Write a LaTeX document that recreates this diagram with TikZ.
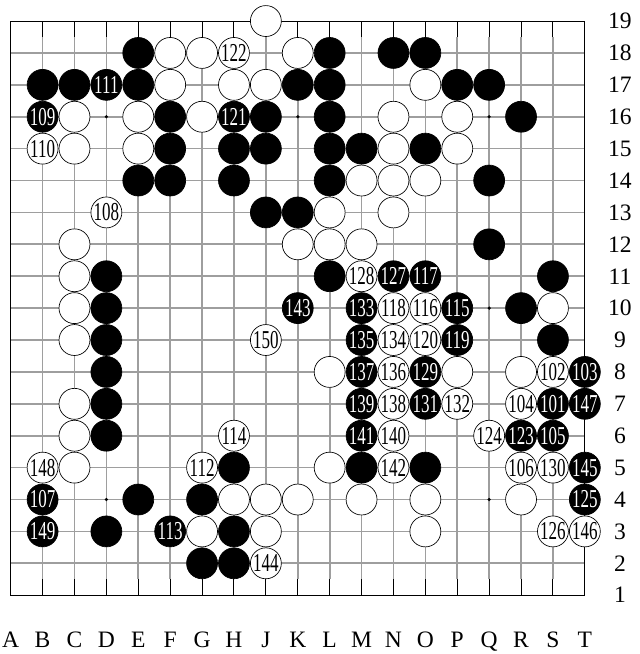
\documentclass[tikz,border=0pt]{standalone}
\usepackage{fontspec}
\setmainfont{Liberation Serif}
\usepackage{graphicx}
\usepackage{tikz}
\definecolor{gridgray}{HTML}{9E9E9E}
\newcommand{\mvnum}[1]{\fontsize{23}{25}\selectfont\scalebox{0.66}[1]{#1}}

\begin{document}
\begin{tikzpicture}[x=1cm, y=1cm, every node/.style={font=\fontsize{21}{24}\selectfont},
  collab/.style={anchor=base, inner sep=0pt}, rowlab/.style={anchor=center, inner sep=0pt},
  stone/.style={circle, draw=black, line width=0.6pt, minimum size=9.7mm, inner sep=0pt},
  bstone/.style={stone, fill=black, text=white}, wstone/.style={stone, fill=white},
  gridln/.style={gridgray, line width=1.5pt}, edgeln/.style={black, line width=0.9pt}]
\useasboundingbox (-0.335,-1.843) rectangle (19.70,18.66);
% board labels
\foreach \l [count=\i from 0] in {A,B,C,D,E,F,G,H,J,K,L,M,N,O,P,Q,R,S,T}
  \node[collab] (col\l) at (\i,-1.633) {\l};
\foreach \r in {1,...,19}
  \node[rowlab] (row\r) at (19.1,\r-1) {\r};
% grid
\foreach \i in {1,...,17} {
  \draw[gridln] (\i,0.5) -- (\i,17.5);
  \draw[edgeln] (\i,0) -- (\i,0.5) (\i,17.5) -- (\i,18);
}
\foreach \j in {1,...,17} \draw[gridln] (0,\j) -- (18,\j);
\draw[edgeln] (0,0) rectangle (18,18);
\foreach \c in {D,K,Q} \foreach \r in {4,10,16} \fill (col\c |- row\r) circle (0.055);
% black stones
\foreach \c/\r in {E/18,L/18,N/18,O/18,B/17,C/17,E/17,K/17,L/17,P/17,Q/17,F/16,J/16,L/16,R/16,
  F/15,H/15,J/15,L/15,M/15,O/15,E/14,F/14,H/14,L/14,Q/14,J/13,K/13,Q/12,D/11,L/11,S/11,
  D/10,R/10,D/9,S/9,D/8,D/7,D/6,H/5,M/5,O/5,E/4,G/4,D/3,H/3,G/2,H/2}
  \node[bstone] (\c\r) at (col\c |- row\r) {};
\foreach \c/\r/\n in {D/17/111,B/16/109,H/16/121,N/11/127,O/11/117,K/10/143,M/10/133,P/10/115,
  M/9/135,P/9/119,M/8/137,O/8/129,T/8/103,M/7/139,O/7/131,S/7/101,T/7/147,M/6/141,R/6/123,
  S/6/105,T/5/145,B/4/107,T/4/125,B/3/149,F/3/113}
  \node[bstone] (\c\r) at (col\c |- row\r) {\mvnum{\n}};
% white stones
\foreach \c/\r in {J/19,F/18,G/18,K/18,F/17,H/17,J/17,O/17,C/16,E/16,G/16,N/16,P/16,
  C/15,E/15,N/15,P/15,M/14,N/14,O/14,L/13,N/13,C/12,K/12,L/12,M/12,C/11,C/10,S/10,C/9,
  L/8,P/8,R/8,C/7,C/6,C/5,L/5,H/4,J/4,K/4,M/4,O/4,R/4,G/3,J/3,O/3}
  \node[wstone] (\c\r) at (col\c |- row\r) {};
\foreach \c/\r/\n in {H/18/122,B/15/110,D/13/108,M/11/128,N/10/118,O/10/116,J/9/150,N/9/134,
  O/9/120,N/8/136,S/8/102,N/7/138,P/7/132,R/7/104,H/6/114,N/6/140,Q/6/124,B/5/148,G/5/112,
  N/5/142,R/5/106,S/5/130,S/3/126,T/3/146,J/2/144}
  \node[wstone] (\c\r) at (col\c |- row\r) {\mvnum{\n}};
\end{tikzpicture}
\end{document}
